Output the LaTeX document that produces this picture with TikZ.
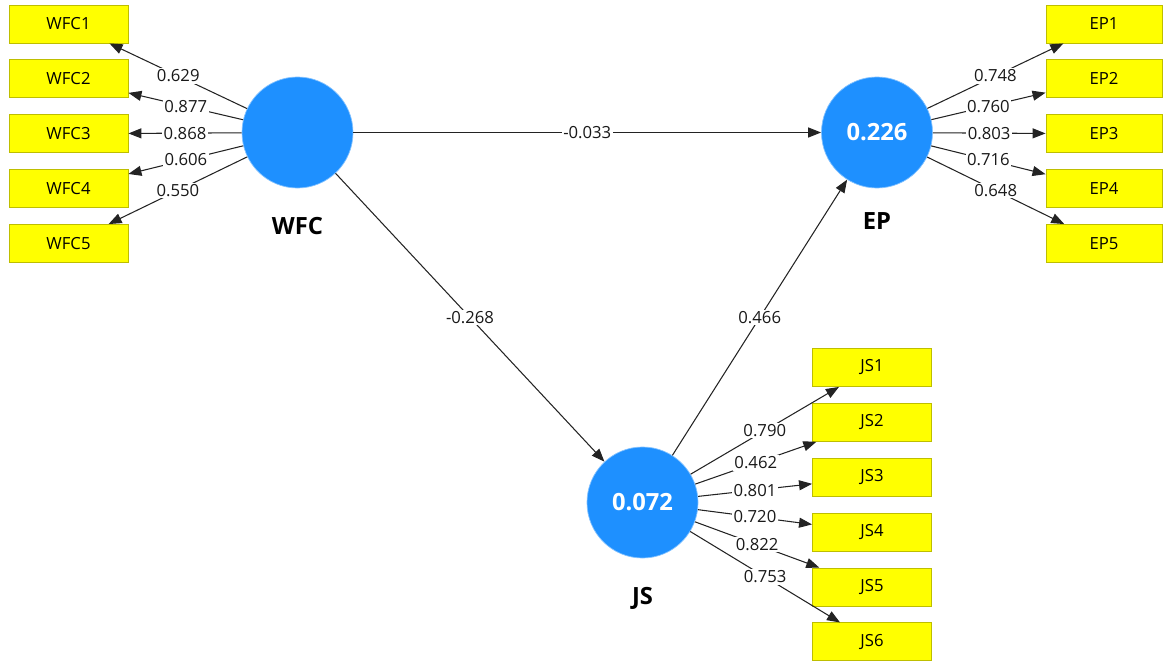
\documentclass[tikz,border=0pt]{standalone}
\usepackage{fontspec}
\setmainfont{Open Sans}
\usetikzlibrary{arrows.meta,positioning}
\definecolor{lvblue}{RGB}{30,144,255}
\definecolor{indfill}{RGB}{255,255,0}
\definecolor{indline}{RGB}{190,190,0}
\definecolor{pathline}{RGB}{35,35,35}

\begin{document}
\begin{tikzpicture}[
    lv/.style={circle, fill=lvblue, draw=lvblue!55, line width=0.4pt,
               minimum size=22.2mm, inner sep=0pt, text=white,
               font=\fontsize{13.5}{15}\selectfont\bfseries},
    ind/.style={rectangle, fill=indfill, draw=indline, line width=0.5pt,
                minimum width=23.8mm, minimum height=7.6mm, inner sep=0pt,
                font=\fontsize{9.5}{11}\selectfont},
    lvname/.style={font=\fontsize{13.5}{15}\selectfont\bfseries, inner sep=0pt},
    arr/.style={-{Triangle[length=2.6mm,width=2mm]}, line width=0.6pt, pathline},
    coef/.style={midway, fill=white, inner sep=0.8pt, text=black!90,
                 font=\fontsize{9.5}{11}\selectfont}
]
\useasboundingbox (0,0) rectangle (23.26,-13.22);

% latent variables
\node[lv, label={[lvname, label distance=5.7mm]below:WFC}] (wfc) at (5.95,-2.65) {};
\node[lv, label={[lvname, label distance=4.8mm]below:EP}] (ep) at (17.54,-2.65) {0.226};
\node[lv, label={[lvname, label distance=5.7mm]below:JS}] (js) at (12.85,-10.05) {0.072};

% WFC indicators
\node[ind] (wfc1) at (1.37,-0.48) {WFC1};
\node[ind, below=3.2mm of wfc1] (wfc2) {WFC2};
\node[ind, below=3.2mm of wfc2] (wfc3) {WFC3};
\node[ind, below=3.2mm of wfc3] (wfc4) {WFC4};
\node[ind, below=3.2mm of wfc4] (wfc5) {WFC5};

% EP indicators
\node[ind, minimum width=23.2mm] (ep1) at (22.08,-0.48) {EP1};
\node[ind, minimum width=23.2mm, below=3.2mm of ep1] (ep2) {EP2};
\node[ind, minimum width=23.2mm, below=3.2mm of ep2] (ep3) {EP3};
\node[ind, minimum width=23.2mm, below=3.2mm of ep3] (ep4) {EP4};
\node[ind, minimum width=23.2mm, below=3.2mm of ep4] (ep5) {EP5};

% JS indicators
\node[ind] (js1) at (17.44,-7.35) {JS1};
\node[ind, below=3.2mm of js1] (js2) {JS2};
\node[ind, below=3.2mm of js2] (js3) {JS3};
\node[ind, below=3.2mm of js3] (js4) {JS4};
\node[ind, below=3.2mm of js4] (js5) {JS5};
\node[ind, below=3.2mm of js5] (js6) {JS6};

% outer loadings
\draw[arr] (wfc) -- node[coef] {0.629} (wfc1);
\draw[arr] (wfc) -- node[coef] {0.877} (wfc2);
\draw[arr] (wfc) -- node[coef] {0.868} (wfc3);
\draw[arr] (wfc) -- node[coef] {0.606} (wfc4);
\draw[arr] (wfc) -- node[coef] {0.550} (wfc5);

\draw[arr] (ep) -- node[coef] {0.748} (ep1);
\draw[arr] (ep) -- node[coef] {0.760} (ep2);
\draw[arr] (ep) -- node[coef] {0.803} (ep3);
\draw[arr] (ep) -- node[coef] {0.716} (ep4);
\draw[arr] (ep) -- node[coef] {0.648} (ep5);

\draw[arr] (js) -- node[coef] {0.790} (js1);
\draw[arr] (js) -- node[coef] {0.462} (js2);
\draw[arr] (js) -- node[coef] {0.801} (js3);
\draw[arr] (js) -- node[coef] {0.720} (js4);
\draw[arr] (js) -- node[coef] {0.822} (js5);
\draw[arr] (js) -- node[coef] {0.753} (js6);

% path coefficients
\draw[arr] (wfc) -- node[coef] {-0.033} (ep);
\draw[arr] (wfc) -- node[coef] {-0.268} (js);
\draw[arr] (js) -- node[coef] {0.466} (ep);

\end{tikzpicture}
\end{document}
